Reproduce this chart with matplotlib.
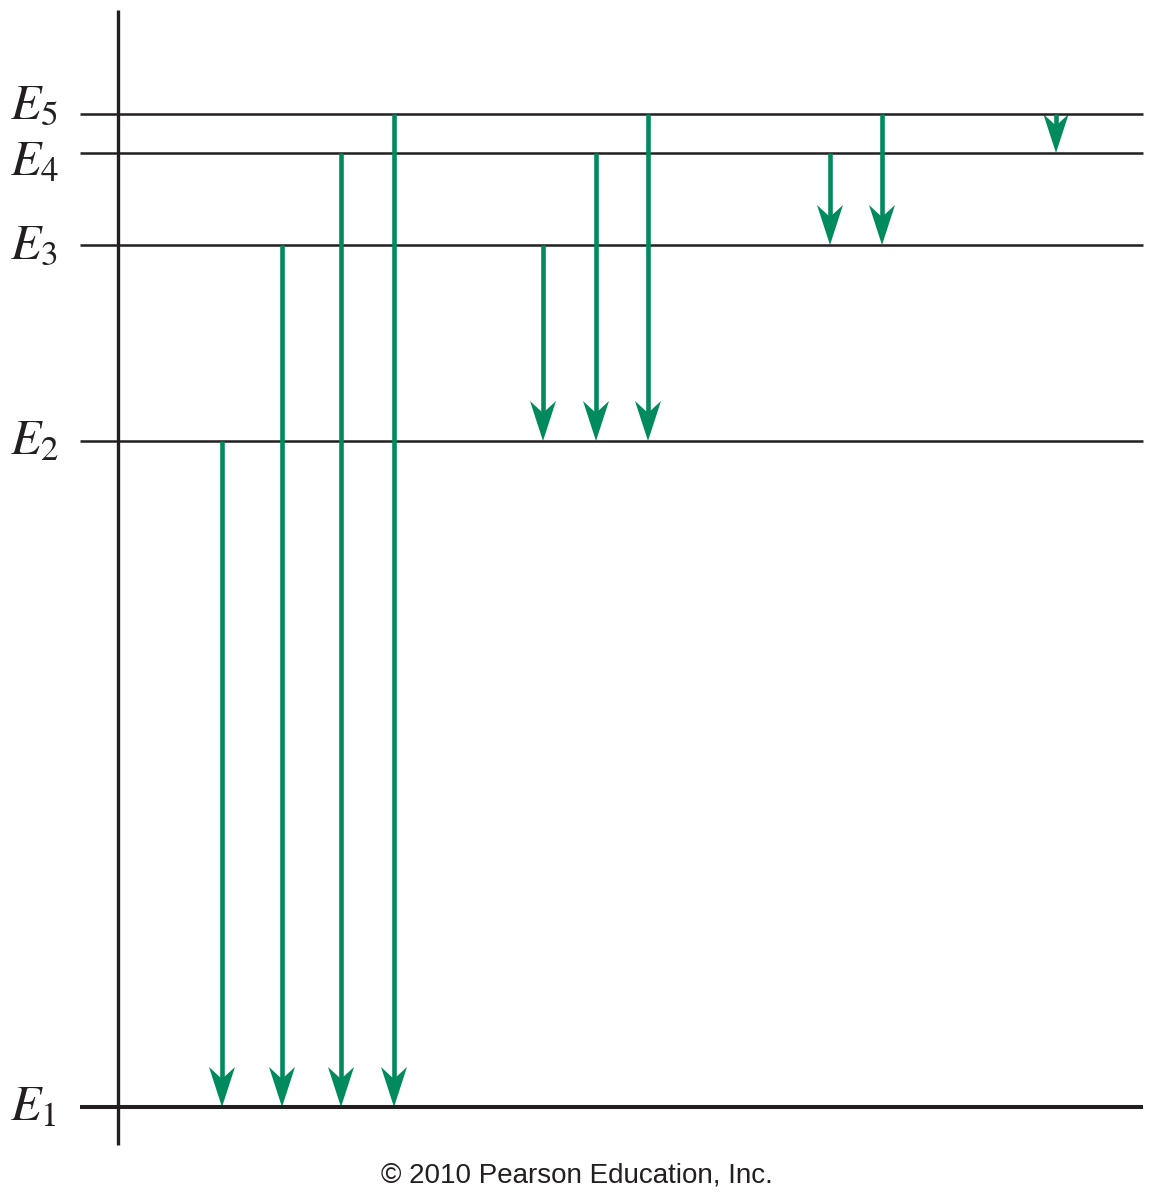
import matplotlib
matplotlib.use("Agg")
import matplotlib.pyplot as plt
from matplotlib.patches import Polygon

# Energy levels (in diagram units, top of figure = 0)
level_names = ["E1", "E2", "E3", "E4", "E5"]
level_y = [1107, 441, 245, 153, 114]
# transitions: (x position, from level index, to level index)
trans_x = [222, 282, 341, 394, 543, 596, 648, 830, 882, 1056]
trans_from = [1, 2, 3, 4, 2, 3, 4, 3, 4, 4]
trans_to = [0, 0, 0, 0, 1, 1, 1, 2, 2, 3]

green = "#008A5E"
dark = "#231F20"

fig = plt.figure(figsize=(11.54, 12), dpi=100)
ax = fig.add_axes([0, 0, 1, 1])
ax.set_xlim(0, 1154)
ax.set_ylim(1200, 0)
ax.axis("off")
plt.rcParams["mathtext.fontset"] = "stix"

ax.plot([118, 118], [10, 1145], color=dark, lw=2.4, solid_capstyle="butt")
for i, y in enumerate(level_y):
    ax.plot([80, 1143], [y, y], color=dark, lw=2.9 if i == 0 else 1.8,
            solid_capstyle="butt")

label_off = [13, 13, 13, 22, 4]
for i, (n, y) in enumerate(zip(level_names, level_y)):
    ax.text(10, y + label_off[i], r"$E_{\mathit{%s}}$" % n[1], fontsize=36,
            va="baseline", ha="left", color=dark)

hl, hw, notch = 40, 13, 28
for x, f, t in zip(trans_x, trans_from, trans_to):
    y0, y1 = level_y[f], level_y[t]
    length = y1 - y0
    L = min(hl, length)
    s = L / hl
    ax.plot([x, x], [y0, y1 - notch * s + 2], color=green, lw=3.3,
            solid_capstyle="butt")
    ax.add_patch(Polygon([(x, y1), (x - hw * s, y1 - hl * s),
                          (x, y1 - notch * s), (x + hw * s, y1 - hl * s)],
                         closed=True, color=green, lw=0))

ax.text(577, 1175, "© 2010 Pearson Education, Inc.", fontsize=20,
        family="Liberation Sans", ha="center", va="center", color=dark)

fig.savefig("out.png", dpi=100)
